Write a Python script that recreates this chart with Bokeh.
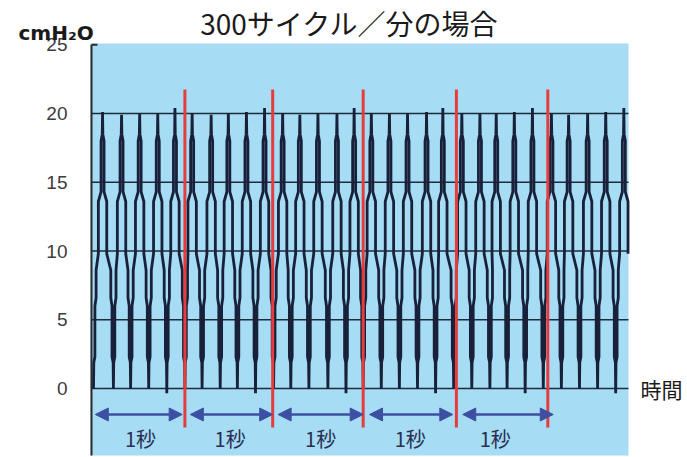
from bokeh.plotting import figure
from bokeh.models import Range1d, Arrow, NormalHead, ColumnDataSource
from bokeh.core.properties import value
from bokeh.embed import file_html
from bokeh.resources import INLINE

# ---------------- data ----------------
title_text = "300サイクル／分の場合"
y_unit_text = "cmH₂O"
x_label_text = "時間"
y_ticks = [0, 5, 10, 15, 20, 25]
grid_levels = [0, 5, 10, 15, 20]

# trough (minimum) times [s] and pressures [cmH2O]
trough_times = [0.00, 0.22, 0.41, 0.61, 0.81, 1.01, 1.20, 1.40, 1.59, 1.79,
                1.99, 2.18, 2.38, 2.59, 2.79, 2.98, 3.18, 3.38, 3.58, 3.78,
                3.98, 4.18, 4.38, 4.57, 4.77, 4.97, 5.17, 5.37, 5.57, 5.77, 5.97]
trough_values = [0.0, 0.0, 0.0, 0.0, -0.35, 0.0, 0.0, 0.0, 0.0, -0.35,
                 0.0, 0.0, 0.0, 0.0, -0.35, 0.0, 0.0, 0.0, 0.0, -0.35,
                 0.0, 0.0, 0.0, 0.0, -0.35, 0.0, 0.0, 0.0, 0.0, -0.35, 0.0]
# peak (maximum) times [s] and pressures [cmH2O]
peak_times = [0.10, 0.31, 0.51, 0.71, 0.90, 1.09, 1.30, 1.49, 1.69, 1.89,
              2.09, 2.28, 2.48, 2.69, 2.88, 3.07, 3.27, 3.47, 3.68, 3.86,
              4.07, 4.27, 4.45, 4.65, 4.85, 5.06, 5.25, 5.46, 5.66, 5.86]
peak_values = [20.1, 19.9, 20.0, 20.0, 20.4, 20.0, 19.9, 20.0, 20.1, 20.4,
               20.0, 19.9, 20.0, 20.0, 20.4, 20.0, 20.0, 20.0, 20.1, 20.4,
               20.0, 20.0, 20.0, 20.1, 20.4, 20.0, 19.9, 20.0, 20.1, 20.4]

second_marks = [1.01, 1.98, 2.98, 4.01, 5.02]
arrow_start = [0.02, 1.07, 2.04, 3.05, 4.08]
arrow_end = [0.98, 1.98, 2.98, 3.97, 5.08]
sec_label_t = [0.52, 1.51, 2.51, 3.50, 4.44]
sec_labels = ["1秒", "1秒", "1秒", "1秒", "1秒"]

# ---------------- layout / styles ----------------
W, H = 687, 457
PX = 1 / 90.5            # seconds per pixel
PY = 1 / 13.75           # cmH2O per pixel
X0 = -93 * PX            # canvas left edge in seconds
X1 = X0 + W * PX
Y1 = 388 * PY            # canvas top edge in cmH2O
Y0 = Y1 - H * PY

AREA_LEFT, AREA_RIGHT = -3 * PX, 535 * PX
AREA_TOP, AREA_BOTTOM = 25.09, -4.87
AXIS_X = -2 * PX
LABEL_X = -26 * PX
RED_TOP, RED_BOTTOM = 21.75, -2.84
ARROW_Y = -1.89
SEC_LABEL_Y = -3.64

BLUE_BG = "#a6dcf4"
TRACE = "#18203a"
GRID = "#1e2b3b"
RED = "#e53d3d"
ARROW = "#3d4fa2"

p = figure(width=W, height=H, output_backend="svg", toolbar_location=None,
           x_range=Range1d(X0, X1), y_range=Range1d(Y0, Y1),
           x_axis_type=None, y_axis_type=None, title=None,
           min_border=0, min_border_left=0, min_border_right=0,
           min_border_top=0, min_border_bottom=0)
p.background_fill_color = "white"
p.border_fill_color = "white"
p.outline_line_color = None
p.grid.visible = False

# light blue plotting area
p.quad(left=[AREA_LEFT], right=[AREA_RIGHT], bottom=[AREA_BOTTOM], top=[AREA_TOP],
       fill_color=BLUE_BG, line_color=None)

# horizontal grid lines
n = len(grid_levels)
p.segment(x0=[AXIS_X] * n, y0=grid_levels, x1=[AREA_RIGHT] * n, y1=grid_levels,
          line_color=GRID, line_width=1.6)

# y axis line, top tick and tick labels
p.segment(x0=[AXIS_X], y0=[AREA_BOTTOM], x1=[AXIS_X], y1=[max(y_ticks)],
          line_color="#2b2b2b", line_width=2)
p.segment(x0=[AXIS_X], y0=[max(y_ticks)], x1=[AXIS_X + 6 * PX], y1=[max(y_ticks)],
          line_color="#2b2b2b", line_width=2)
p.text(x=[LABEL_X] * len(y_ticks), y=y_ticks, text=[str(v) for v in y_ticks],
       text_align="right", text_baseline="middle",
       text_font=value("Liberation Sans"), text_font_size="19px", text_color="#3c3c3c")

# ---------------- waveform ----------------
def up_stroke(t0, t1, b):
    return [(t0 + 0.3 * PX, 1.9), (t0 + 1.4 * PX, 2.3), (t0 + 1.4 * PX, 6.0),
            (t0 + 2.6 * PX, 6.6), (t0 + 2.6 * PX, 8.6), (t1 - 4.2 * PX, 9.8),
            (t1 - 4.2 * PX, 13.6), (t1 - 1.5 * PX, 14.3), (t1 - 1.5 * PX, 18.0),
            (t1 - 0.3 * PX, 18.5), (t1, b)]

def down_stroke(t1, t2, c):
    return [(t1 + 0.3 * PX, 18.5), (t1 + 1.5 * PX, 18.0), (t1 + 1.5 * PX, 14.3),
            (t1 + 4.2 * PX, 13.6), (t1 + 4.2 * PX, 9.8), (t2 - 2.6 * PX, 8.6),
            (t2 - 2.6 * PX, 6.6), (t2 - 1.4 * PX, 6.0), (t2 - 1.4 * PX, 2.3),
            (t2 - 0.3 * PX, 1.9), (t2, c)]

pts = [(trough_times[0], trough_values[0])]
for i, (tp, vp) in enumerate(zip(peak_times, peak_values)):
    pts += up_stroke(trough_times[i], tp, vp)
    pts += down_stroke(tp, trough_times[i + 1], trough_values[i + 1])
# the trace stops at the right edge of the blue area
wx, wy = [], []
for (a, b) in pts:
    if a <= AREA_RIGHT:
        wx.append(a)
        wy.append(b)
p.line(wx, wy, line_color=TRACE, line_width=2.8, line_join="bevel")

# red one-second marks
m = len(second_marks)
p.segment(x0=second_marks, y0=[RED_BOTTOM] * m, x1=second_marks, y1=[RED_TOP] * m,
          line_color=RED, line_width=3)

# double arrows
asrc = ColumnDataSource(dict(x0=arrow_start, x1=arrow_end,
                             y=[ARROW_Y] * len(arrow_start)))
p.add_layout(Arrow(source=asrc, x_start="x0", y_start="y", x_end="x1", y_end="y",
                   line_color=ARROW, line_width=2.5,
                   start=NormalHead(size=13, fill_color=ARROW, line_color=ARROW),
                   end=NormalHead(size=13, fill_color=ARROW, line_color=ARROW)))

p.text(x=sec_label_t, y=[SEC_LABEL_Y] * len(sec_label_t), text=sec_labels,
       text_align="center", text_baseline="middle",
       text_font=value("Noto Sans CJK JP"), text_font_size="20px", text_color="#2a2f52")

# title, unit and axis name
p.text(x=[(349 - 93) * PX], y=[(388 - 22) * PY], text=[title_text],
       text_align="center", text_baseline="middle",
       text_font=value("Noto Sans CJK JP"), text_font_size="28px", text_color="#1a1a1a")
p.text(x=[(18 - 93) * PX], y=[(388 - 32) * PY], text=[y_unit_text],
       text_align="left", text_baseline="alphabetic",
       text_font=value("DejaVu Sans"), text_font_style="bold",
       text_font_size="20px", text_color="#1a1a1a")
p.text(x=[(640 - 93) * PX], y=[0.0], text=[x_label_text],
       text_align="left", text_baseline="middle",
       text_font=value("Noto Sans CJK JP"), text_font_size="21px", text_color="#1a1a1a")

open("out.html", "w").write(file_html(p, INLINE))
